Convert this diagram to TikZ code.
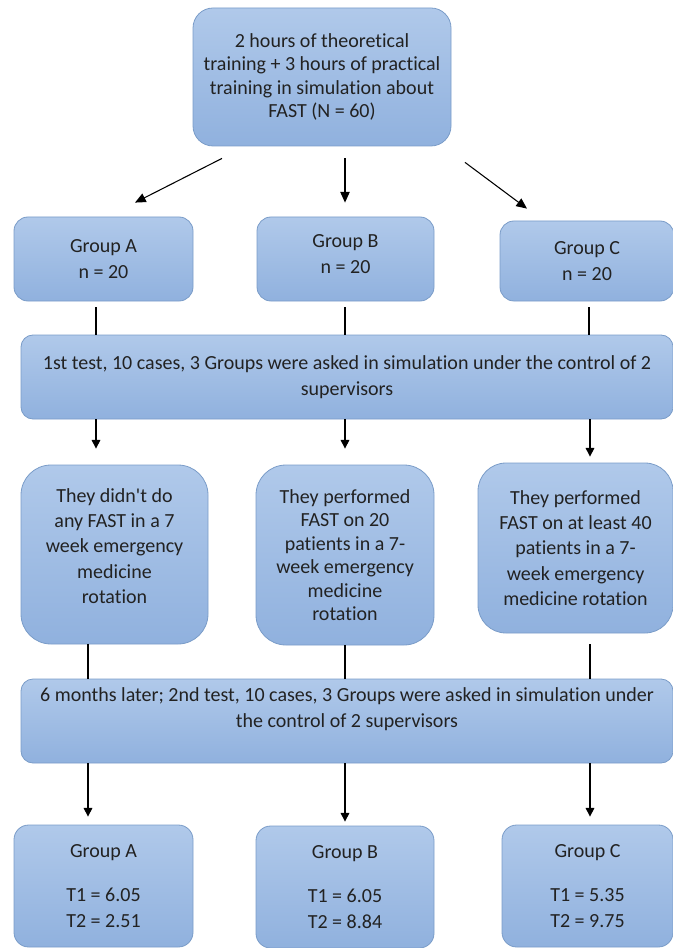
\documentclass[tikz,border=0pt]{standalone}
\usepackage{fontspec}
\setmainfont{Carlito}[Ligatures=NoCommon]
\usepackage{tikz}
\usetikzlibrary{positioning}
\usetikzlibrary{arrows.meta}

\begin{document}
\begin{tikzpicture}
    [%%%%%%%%%%%%%%%%%%%%%%%%%%%%%%
        x=0.75pt, y=-0.75pt,
        box/.style={rectangle, draw=boxline, line width=0.6pt, top color=boxtop, bottom color=boxbottom,
                    rounded corners=#1, inner sep=0pt},
        box/.default=10.5pt,
        txt/.style={align=center, font=\fontsize{15}{19}\selectfont, text=textgray},
        tight/.style={font=\fontsize{15}{17.6}\selectfont},
        link/.style={line width=0.8pt},
        arr/.style={line width=0.8pt, -{Triangle[length=6.5pt,width=6.5pt]}},
        bigarr/.style={line width=0.8pt, -{Triangle[length=8pt,width=7pt]}}
    ]%%%%%%%%%%%%%%%%%%%%%%%%%%%%%%
\definecolor{boxtop}{HTML}{B0C9EA}
\definecolor{boxbottom}{HTML}{90B1DE}
\definecolor{boxline}{HTML}{7A9CC8}
\definecolor{textgray}{HTML}{222222}
\useasboundingbox (0,0) rectangle (673,948);

% training
\node[box=15pt, txt, tight, minimum width=193.5pt, minimum height=103.5pt] (train) at (322,77)
    {2 hours of theoretical\\training + 3 hours of practical\\training in simulation about\\FAST (N = 60)};

% groups
\node[box, txt, minimum width=134.25pt, minimum height=63pt] (grpA) at (103.5,259) {Group A\\n = 20};
\node[box, minimum width=132.75pt, minimum height=63pt] (grpB) at (345.5,259) {};
\node[txt] (grpBtext) at (345.5,254) {Group B\\n = 20};
\node[box, txt, minimum width=130.5pt, minimum height=60pt] (grpC) at (587,261) {Group C\\n = 20};

% first test
\node[box=9pt, txt, minimum width=489pt, minimum height=63pt] (test1) at (347,377)
    {1st test, 10 cases, 3 Groups were asked in simulation under the control of 2\\supervisors};

% rotation
\node[box=22.5pt, minimum width=140.25pt, minimum height=134.25pt] (rotA) at (114.5,554.5) {};
\node[txt] (rotAtext) at (114.5,546)
    {They didn\textquotesingle t do\\any FAST in a 7\\week emergency\\medicine\\rotation};
\node[box=22.5pt, txt, tight, minimum width=133.5pt, minimum height=135pt] (rotB) at (345,555)
    {They performed\\FAST on 20\\patients in a 7-\\week emergency\\medicine\\rotation};
\node[box=21pt, txt, minimum width=146.25pt, minimum height=127.5pt] (rotC) at (575.5,548)
    {They performed\\FAST on at least 40\\patients in a 7-\\week emergency\\medicine rotation};

% second test
\node[box=9pt, minimum width=489pt, minimum height=63pt] (test2) at (347,721) {};
\node[txt] (test2text) at (347,709)
    {6 months later; 2nd test, 10 cases, 3 Groups were asked in simulation under\\the control of 2 supervisors};

% results
\node[box=11pt, txt, minimum width=134.25pt, minimum height=91.5pt] (resA) at (103.5,886)
    {Group A\\[14pt]T1 = 6.05\\T2 = 2.51};
\node[box=11pt, txt, minimum width=133.5pt, minimum height=91.5pt] (resB) at (345,887)
    {Group B\\[14pt]T1 = 6.05\\T2 = 8.84};
\node[box=11pt, txt, minimum width=128.25pt, minimum height=91.5pt] (resC) at (587.5,886)
    {Group C\\[14pt]T1 = 5.35\\T2 = 9.75};

% arrows from training
\draw[bigarr] ([shift={(-100,12)}]train.south) -- ([shift={(31.5,-14)}]grpA.north);
\draw[bigarr] ([shift={(23,12)}]train.south) -- ([shift={(-0.5,-14)}]grpB.north);
\draw[bigarr] ([shift={(143,16)}]train.south) -- ([shift={(-60,-12)}]grpC.north);

\foreach \col/\from in {96/grpA, 345/grpB, 589/grpC}
    \draw[link, shorten <=4.5pt] (\col,0 |- \from.south) -- (\col,0 |- test1.north);

\foreach \col/\to/\gap in {96/rotA/12pt, 345/rotB/12pt, 590/rotC/4.5pt}
    \draw[arr, shorten >=\gap] (\col,0 |- test1.south) -- (\col,0 |- \to.north);

\foreach \col/\from/\gap in {88/rotA/0pt, 345/rotB/0pt, 590/rotC/8.25pt}
    \draw[link, shorten <=\gap] (\col,0 |- \from.south) -- (\col,0 |- test2.north);

\foreach \col/\to/\gap in {88/resA/6pt, 345/resB/3pt, 590/resC/6pt}
    \draw[arr, shorten >=\gap] (\col,0 |- test2.south) -- (\col,0 |- \to.north);

\end{tikzpicture}
\end{document}
